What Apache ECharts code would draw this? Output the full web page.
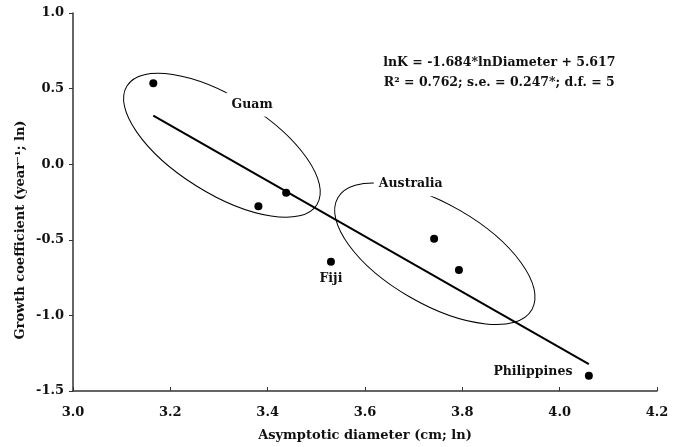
<!DOCTYPE html>
<html>
<head>
<meta charset="utf-8">
<script src="https://cdn.jsdelivr.net/npm/echarts@6/dist/echarts.min.js"></script>
<style>
  html, body { margin: 0; background: #fff; }
  #chart { width: 677px; height: 447px; }
</style>
</head>
<body>
<div id="chart"></div>
<script>
// ln asymptotic diameter vs ln growth coefficient, one point per site
const diameter = [3.165, 3.381, 3.438, 3.530, 3.742, 3.793, 4.060]
const growth = [0.535, -0.278, -0.189, -0.645, -0.493, -0.700, -1.399]
// fitted line, as drawn (end points)
const trendX = [3.165, 4.060]
const trendY = [0.322, -1.322]
const xTicks = [3.0, 3.2, 3.4, 3.6, 3.8, 4.0, 4.2]
const yTicks = [-1.5, -1.0, -0.5, 0.0, 0.5, 1.0]

const FONT = '"DejaVu Serif", "Liberation Serif", serif'
const INK = '#111'

// annotations placed in data coordinates
const notes = [
  { text: 'Guam', at: [3.368, 0.395], bg: true },
  { text: 'Australia', at: [3.694, -0.132], bg: true },
  { text: 'Fiji', at: [3.530, -0.757] },
  { text: 'Philippines', at: [3.945, -1.375] },
  { text: 'lnK = -1.684*lnDiameter + 5.617\nR² = 0.762; s.e. = 0.247*; d.f. = 5', at: [3.876, 0.605] }
]
// group ellipses: centre in data coords, radii in px, tilt in degrees (clockwise)
const ellipses = [
  { at: [3.306, 0.125], rx: 112, ry: 48, tilt: 32 },
  { at: [3.7435, -0.592], rx: 112, ry: 50, tilt: 30 }
]

const axisLabelStyle = { color: INK, fontFamily: FONT, fontWeight: 'bold', fontSize: 13 }

let option = {
  animation: false,
  grid: { left: 73, right: 20, top: 13, bottom: 54 },
  xAxis: {
    type: 'value',
    min: xTicks[0],
    max: xTicks[xTicks.length - 1],
    interval: 0.2,
    axisLine: { onZero: false, lineStyle: { color: '#333', width: 1.5 } },
    axisTick: { inside: true, length: 4, lineStyle: { color: '#333' } },
    splitLine: { show: false },
    axisLabel: Object.assign({ margin: 15, formatter: v => v.toFixed(1) }, axisLabelStyle),
    name: 'Asymptotic diameter (cm; ln)',
    nameLocation: 'middle',
    nameGap: 38,
    nameTextStyle: { color: INK, fontFamily: FONT, fontWeight: 'bold', fontSize: 13 }
  },
  yAxis: {
    type: 'value',
    min: yTicks[0],
    max: yTicks[yTicks.length - 1],
    interval: 0.5,
    axisLine: { show: true, onZero: false, lineStyle: { color: '#333', width: 1.5 } },
    axisTick: { show: true, length: 4, lineStyle: { color: '#333' } },
    splitLine: { show: false },
    axisLabel: Object.assign({ margin: 9, formatter: v => v.toFixed(1) }, axisLabelStyle)
  },
  series: [
    {
      type: 'line',
      data: trendX.map((x, i) => [x, trendY[i]]),
      symbol: 'none',
      lineStyle: { color: '#000', width: 2 },
      z: 3
    },
    {
      type: 'scatter',
      data: diameter.map((x, i) => [x, growth[i]]),
      symbol: 'circle',
      symbolSize: 8,
      itemStyle: { color: '#000', opacity: 1 },
      z: 4
    }
  ]
}

let chart = echarts.init(document.getElementById('chart'))
chart.setOption(option)

// overlay: ellipses, labels, rotated y name
let elements = []
ellipses.forEach(e => {
  let p = chart.convertToPixel({ gridIndex: 0 }, e.at)
  elements.push({
    type: 'ellipse',
    x: p[0],
    y: p[1],
    rotation: -e.tilt * Math.PI / 180,
    shape: { cx: 0, cy: 0, rx: e.rx, ry: e.ry },
    style: { fill: 'none', stroke: '#000', lineWidth: 1 },
    z: 1
  })
})
notes.forEach(n => {
  let p = chart.convertToPixel({ gridIndex: 0 }, n.at)
  elements.push({
    type: 'text',
    x: p[0],
    y: p[1],
    style: {
      text: n.text,
      font: 'bold 12.5px ' + FONT,
      fill: INK,
      align: 'center',
      verticalAlign: 'middle',
      lineHeight: 20,
      backgroundColor: n.bg ? '#fff' : null,
      padding: n.bg ? [2, 5] : 0
    },
    z: 10
  })
})
elements.push({
  type: 'text',
  x: 21,
  y: 230,
  rotation: Math.PI / 2,
  style: {
    text: 'Growth coefficient (year⁻¹; ln)',
    font: 'bold 13px ' + FONT,
    fill: INK,
    align: 'center',
    verticalAlign: 'middle'
  },
  z: 10
})
chart.setOption({ graphic: { elements: elements } })
</script>
</body>
</html>
